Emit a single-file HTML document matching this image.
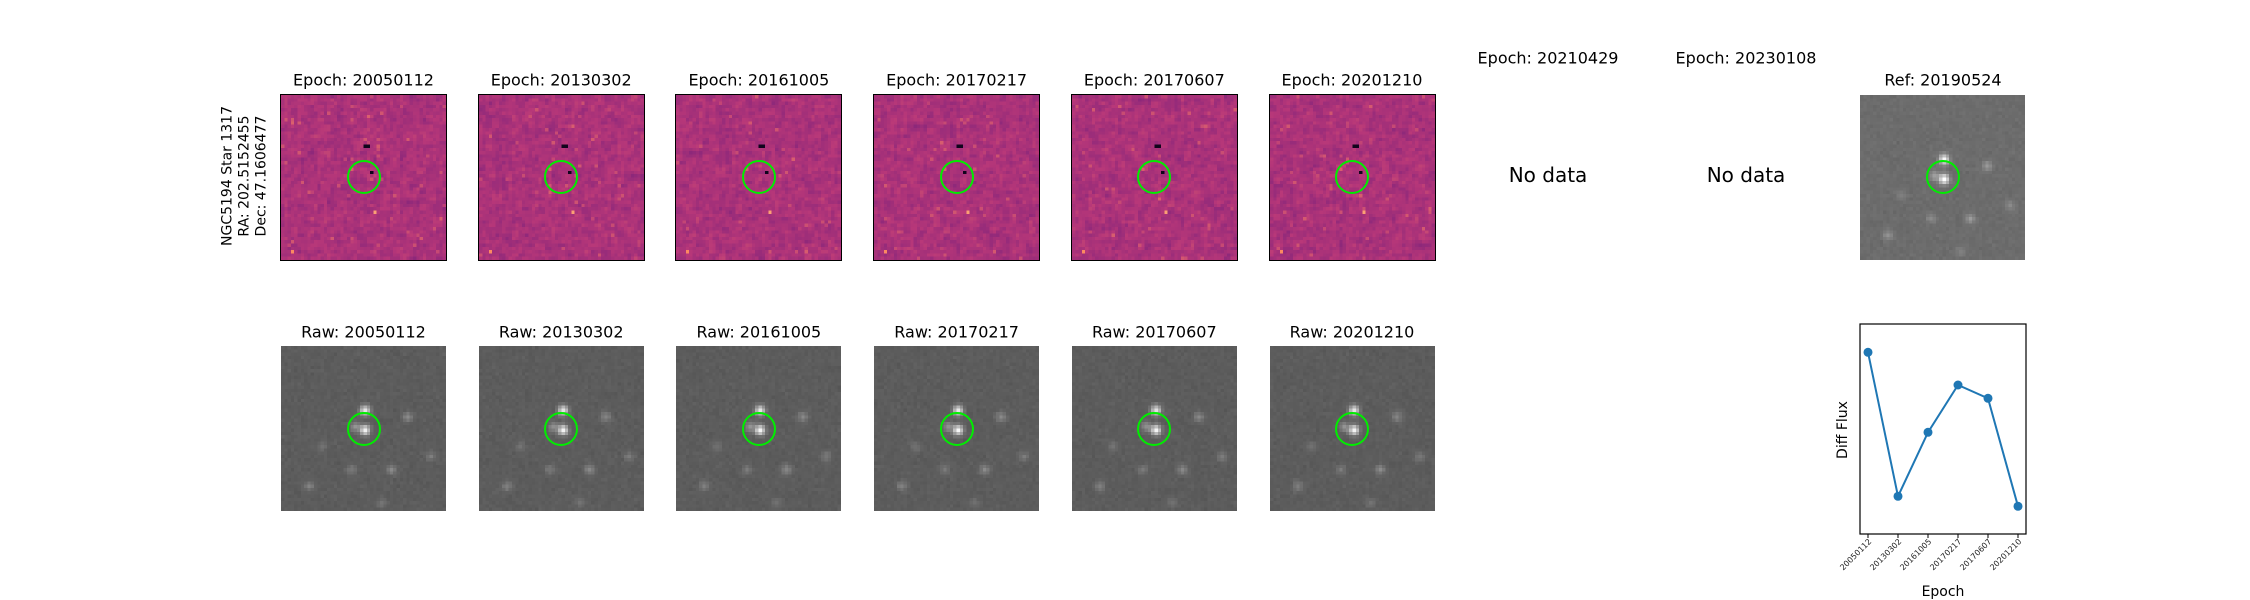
<!DOCTYPE html>
<html><head><meta charset="utf-8">
<style>
body{margin:0;background:#fff;}
#root{position:relative;width:2250px;height:600px;overflow:hidden;background:#fff;font-family:"DejaVu Sans","Liberation Sans",sans-serif;color:#000;}
.t{position:absolute;font-size:16px;white-space:nowrap;transform:translate(-50%,-50%);}
.nd{position:absolute;font-size:20px;white-space:nowrap;transform:translate(-50%,-50%);}
canvas{position:absolute;image-rendering:pixelated;}
.circ{position:absolute;width:34px;height:34px;border:2px solid #00ee00;border-radius:50%;box-sizing:border-box;}
</style></head>
<body>
<div id="root">
<div id="side" style="position:absolute;left:245px;top:176px;transform:translate(-50%,-50%) rotate(-90deg);font-size:14px;line-height:17px;text-align:center;white-space:nowrap;">NGC5194 Star 1317<br>RA: 202.5152455<br>Dec: 47.1606477</div>
<div class="t" style="left:1548px;top:58px">Epoch: 20210429</div>
<div class="t" style="left:1746px;top:58px">Epoch: 20230108</div>
<div class="nd" style="left:1548px;top:175px">No data</div>
<div class="nd" style="left:1746px;top:175px">No data</div>
<svg id="lc" width="2250" height="600" style="position:absolute;left:0;top:0;pointer-events:none"></svg>
</div>
<script>
const epochs=["20050112","20130302","20161005","20170217","20170607","20201210"];
const diffFlux=[154,10,74,121.3,108,0];
const yDomain=[-27.7,182.3];

const root=document.getElementById('root');
let seed=12345;
function rnd(){seed=(seed*1103515245+12345)&0x7fffffff;return seed/0x7fffffff;}
function gauss(){return (rnd()+rnd()+rnd()+rnd()-2)*0.87;}
const mag=[[0,[0,0,4]],[0.25,[80,18,123]],[0.5,[183,55,121]],[0.75,[252,137,97]],[1,[252,253,191]]];
function magma(v){v=Math.max(0,Math.min(1,v));for(let i=1;i<mag.length;i++){if(v<=mag[i][0]){const a=mag[i-1],b=mag[i];const f=(v-a[0])/(b[0]-a[0]);return a[1].map((c,k)=>Math.round(c+(b[1][k]-c)*f));}}return mag[4][1];}
const N=50;
const stars=[[25,25,1],[25,19,0.9],[22,24,0.35],[38,21,0.3],[33,37,0.3],[21,37,0.2],[8,42,0.25],[30,47,0.15],[12,30,0.15],[45,33,0.2]];
function panel(x,y,kind,name,border){
  const c=document.createElement('canvas');c.width=N;c.height=N;
  c.style.left=x+'px';c.style.top=y+'px';c.style.width='165px';c.style.height='165px';
  if(border){c.style.outline='1.5px solid #000';}
  
  
  const ctx=c.getContext('2d');const im=ctx.createImageData(N,N);
  const f=[];for(let k=0;k<N*N;k++)f.push(gauss());
  for(let j=0;j<N;j++)for(let i=0;i<N;i++){
    let col;
    if(kind==='diff'){
      const nb=(f[j*N+((i+1)%N)]+f[((j+1)%N)*N+i])*0.35;
      let v=0.47+(f[j*N+i]*0.7+nb)*0.055;
      if(rnd()<0.015)v+=0.1;
      if(i===25&&j===15)v=0.05;if(i===26&&j===15)v=0.05;
      if(i===27&&j===23)v=0.05;if(i===28&&j===35)v=0.8;
      if(i===3&&j===47)v=0.75;if(i===21&&j===22)v=0.62;
      col=magma(v);
    }else{
      let v=(kind==='ref'?108:92)+f[j*N+i]*5;
      for(const s of stars){const d2=(i-s[0])**2+(j-s[1])**2;v+=s[2]*150*Math.exp(-d2/2.2);}
      v=Math.min(255,v);col=[v,v,v];
    }
    const p=(j*N+i)*4;im.data[p]=col[0];im.data[p+1]=col[1];im.data[p+2]=col[2];im.data[p+3]=255;
  }
  ctx.putImageData(im,0,0);root.appendChild(c);
  const ci=document.createElement('div');ci.className='circ';
  ci.style.left=(x+82.5-17)+'px';ci.style.top=(y+82.5-17)+'px';
  
  
  root.appendChild(ci);
}
function title(txt,cx,cy,name){const d=document.createElement('div');d.className='t';d.textContent=txt;d.style.left=cx+'px';d.style.top=cy+'px';
  
  
  root.appendChild(d);}
epochs.forEach((e,k)=>{
  const x=281+k*197.7;
  title('Epoch: '+e,x+82.5,80,'epoch-title');
  panel(x,94.5,'diff','diff-image',true);
  title('Raw: '+e,x+82.5,332,'raw-title');
  panel(x,346,'raw','raw-image',false);
});
title('Ref: 20190524',1943,80,'ref-title');
panel(1860,94.5,'ref','ref-image',false);

const svg=document.getElementById('lc');const NS='http://www.w3.org/2000/svg';
const L=1860,R=2026,T=324,B=534;
function xs(i){return 1868+i*30;}
function ys(v){return B-(v-yDomain[0])/(yDomain[1]-yDomain[0])*(B-T);}
function el(tag,at,name){const e=document.createElementNS(NS,tag);for(const k in at)e.setAttribute(k,at[k]);
  
  
  svg.appendChild(e);return e;}
el('rect',{x:L,y:T,width:R-L,height:B-T,fill:'none',stroke:'#000','stroke-width':1.2},'plot-frame');
el('polyline',{points:diffFlux.map((v,i)=>xs(i)+','+ys(v)).join(' '),fill:'none',stroke:'#1f77b4','stroke-width':2},'flux-line');
diffFlux.forEach((v,i)=>{el('circle',{cx:xs(i),cy:ys(v),r:4.5,fill:'#1f77b4'},'flux-point');});
epochs.forEach((e,i)=>{
  el('line',{x1:xs(i),y1:B,x2:xs(i),y2:B+4,stroke:'#000','stroke-width':1},'x-tick');
  const t=el('text',{x:xs(i)+4,y:B+8,'font-size':8,'text-anchor':'end','font-family':'DejaVu Sans, Liberation Sans, sans-serif',transform:`rotate(-45 ${xs(i)+4} ${B+8})`,fill:'#222'},'x-tick-label');t.textContent=e;
});
const xl=el('text',{x:1943,y:596,'font-size':14,'text-anchor':'middle','font-family':'DejaVu Sans, Liberation Sans, sans-serif'},'x-axis-title');xl.textContent='Epoch';
const yl=el('text',{x:1847,y:430,'font-size':14,'text-anchor':'middle','font-family':'DejaVu Sans, Liberation Sans, sans-serif',transform:'rotate(-90 1847 430)'},'y-axis-title');yl.textContent='Diff Flux';
</script>
</body></html>
